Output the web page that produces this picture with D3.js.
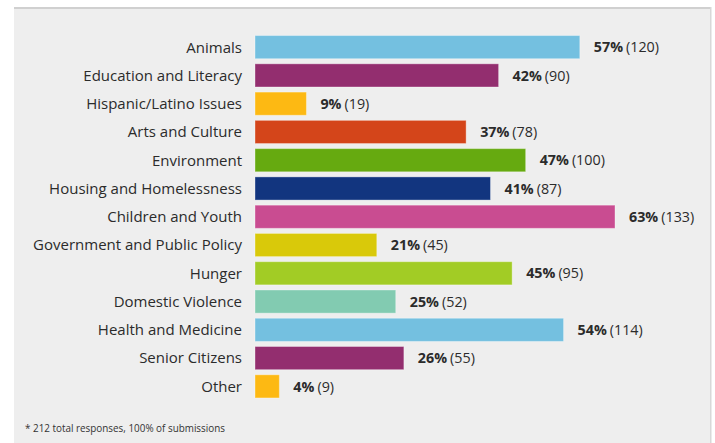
<!DOCTYPE html>
<html>
<head>
<meta charset="utf-8">
<script src="https://cdn.jsdelivr.net/npm/d3@7"></script>
<style>
  body { margin: 0; background: #fff; }
  svg { display: block; font-family: "Open Sans", "Noto Sans", sans-serif; }
</style>
</head>
<body>
<svg id="chart" width="715" height="443"></svg>
<script>
const categories = ["Animals", "Education and Literacy", "Hispanic/Latino Issues", "Arts and Culture",
  "Environment", "Housing and Homelessness", "Children and Youth", "Government and Public Policy",
  "Hunger", "Domestic Violence", "Health and Medicine", "Senior Citizens", "Other"];
const counts = [120, 90, 19, 78, 100, 87, 133, 45, 95, 52, 114, 55, 9];
const percents = [57, 42, 9, 37, 47, 41, 63, 21, 45, 25, 54, 26, 4];
const colours = ["#74c0e0", "#932e6f", "#fdb913", "#d4451a", "#66aa10", "#12357f", "#c94c91",
  "#d9c90a", "#a2cc25", "#82cbb1", "#74c0e0", "#932e6f", "#fdb913"];
const footnote = "* 212 total responses, 100% of submissions";

const svg = d3.select("#chart");

// grey panel with a thin top rule
svg.append("rect").attr("x", 14).attr("y", 8).attr("width", 697).attr("height", 440).attr("fill", "#eeeeee");
svg.append("rect").attr("x", 14).attr("y", 7).attr("width", 697).attr("height", 2).attr("fill", "#d0d0d0");
svg.append("rect").attr("x", 710).attr("y", 7).attr("width", 1.5).attr("height", 440).attr("fill", "#d8d8d8");

const x = d3.scaleLinear().domain([0, 133]).range([255, 615]);
const y = d3.scaleBand().domain(categories).range([33, 400.5]).paddingInner(0.18).paddingOuter(0.09);

const rows = categories.map((c, i) => ({ cat: c, n: counts[i], pct: percents[i], col: colours[i] }));

svg.append("g").selectAll("rect").data(rows).enter().append("rect")
  .attr("x", x(0)).attr("y", d => y(d.cat))
  .attr("width", d => x(d.n) - x(0)).attr("height", y.bandwidth())
  .attr("fill", d => d.col)
  .attr("stroke", "rgba(255,255,255,0.35)").attr("stroke-width", 1);

svg.append("g").selectAll("text").data(rows).enter().append("text")
  .attr("x", 242).attr("y", d => y(d.cat) + y.bandwidth() / 2)
  .attr("dy", "0.36em").attr("text-anchor", "end")
  .attr("font-size", 15).attr("fill", "#2b2b2b")
  .text(d => d.cat);

const vals = svg.append("g").selectAll("text").data(rows).enter().append("text")
  .attr("x", d => x(d.n) + 14).attr("y", d => y(d.cat) + y.bandwidth() / 2)
  .attr("dy", "0.36em").attr("font-size", 14.3).attr("fill", "#2b2b2b");
vals.append("tspan").attr("font-weight", "bold").text(d => d.pct + "%");
vals.append("tspan").attr("dx", 3).text(d => "(" + d.n + ")");

svg.append("text").attr("x", 25).attr("y", 432)
  .attr("font-size", 9.9).attr("fill", "#333").text(footnote);
</script>
</body>
</html>
